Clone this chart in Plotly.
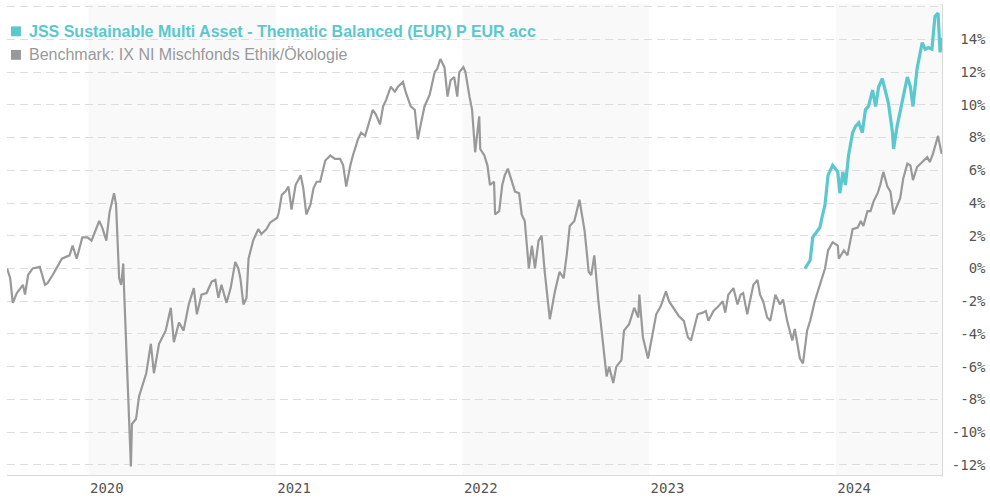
import plotly.graph_objects as go

# ---------------- data ----------------
bench_dates = [
    "2019-07-26", "2019-08-01", "2019-08-06", "2019-08-14", "2019-08-26", "2019-08-30", "2019-09-05", "2019-09-14",
    "2019-09-28", "2019-10-08", "2019-10-13", "2019-10-23", "2019-11-10", "2019-11-25", "2019-12-01", "2019-12-09",
    "2019-12-20", "2019-12-30", "2020-01-07", "2020-01-22", "2020-01-28", "2020-02-05", "2020-02-11", "2020-02-20",
    "2020-02-24", "2020-03-01", "2020-03-05", "2020-03-09", "2020-03-11", "2020-03-17", "2020-03-24", "2020-03-26",
    "2020-04-03", "2020-04-09", "2020-04-23", "2020-05-02", "2020-05-08", "2020-05-18", "2020-05-31", "2020-06-10",
    "2020-06-16", "2020-06-26", "2020-07-05", "2020-07-15", "2020-07-25", "2020-07-31", "2020-08-09", "2020-08-19",
    "2020-08-29", "2020-09-05", "2020-09-11", "2020-09-17", "2020-09-27", "2020-10-05", "2020-10-14", "2020-10-20",
    "2020-10-24", "2020-10-30", "2020-11-05", "2020-11-09", "2020-11-18", "2020-11-28", "2020-12-04", "2020-12-14",
    "2020-12-21", "2021-01-04", "2021-01-07", "2021-01-13", "2021-01-20", "2021-01-26", "2021-02-01", "2021-02-09",
    "2021-02-19", "2021-02-24", "2021-03-02", "2021-03-10", "2021-03-16", "2021-03-22", "2021-03-29", "2021-04-08",
    "2021-04-18", "2021-04-27", "2021-05-07", "2021-05-13", "2021-05-19", "2021-05-27", "2021-06-01", "2021-06-11",
    "2021-06-17", "2021-06-25", "2021-07-01", "2021-07-10", "2021-07-16", "2021-07-24", "2021-07-30", "2021-08-05",
    "2021-08-14", "2021-08-22", "2021-08-28", "2021-09-07", "2021-09-12", "2021-09-22", "2021-09-30", "2021-10-06",
    "2021-10-11", "2021-10-19", "2021-10-29", "2021-11-08", "2021-11-13", "2021-11-19", "2021-11-27", "2021-12-03",
    "2021-12-09", "2021-12-16", "2021-12-22", "2021-12-26", "2022-01-03", "2022-01-07", "2022-01-15", "2022-01-20",
    "2022-01-26", "2022-02-03", "2022-02-05", "2022-02-13", "2022-02-19", "2022-02-24", "2022-03-04", "2022-03-06",
    "2022-03-14", "2022-03-20", "2022-03-25", "2022-03-31", "2022-04-14", "2022-04-22", "2022-04-27", "2022-05-03",
    "2022-05-11", "2022-05-17", "2022-05-23", "2022-05-30", "2022-06-05", "2022-06-11", "2022-06-21", "2022-07-01",
    "2022-07-10", "2022-07-18", "2022-07-24", "2022-07-30", "2022-08-08", "2022-08-18", "2022-08-28", "2022-09-05",
    "2022-09-10", "2022-09-16", "2022-09-24", "2022-10-04", "2022-10-10", "2022-10-15", "2022-10-23", "2022-10-29",
    "2022-11-08", "2022-11-13", "2022-11-23", "2022-12-03", "2022-12-11", "2022-12-13", "2022-12-20", "2022-12-30",
    "2023-01-05", "2023-01-15", "2023-01-24", "2023-02-03", "2023-02-09", "2023-02-19", "2023-02-28", "2023-03-10",
    "2023-03-18", "2023-03-24", "2023-03-29", "2023-04-06", "2023-04-16", "2023-04-22", "2023-04-27", "2023-05-07",
    "2023-05-17", "2023-05-25", "2023-05-30", "2023-06-05", "2023-06-15", "2023-06-23", "2023-06-29", "2023-07-04",
    "2023-07-12", "2023-07-18", "2023-07-24", "2023-08-01", "2023-08-06", "2023-08-12", "2023-08-20", "2023-08-26",
    "2023-09-05", "2023-09-14", "2023-09-20", "2023-09-28", "2023-10-08", "2023-10-13", "2023-10-23", "2023-10-29",
    "2023-11-06", "2023-11-12", "2023-11-21", "2023-12-01", "2023-12-11", "2023-12-17", "2023-12-26", "2024-01-05",
    "2024-01-07", "2024-01-17", "2024-01-24", "2024-02-03", "2024-02-13", "2024-02-19", "2024-02-24", "2024-03-03",
    "2024-03-09", "2024-03-15", "2024-03-23", "2024-03-28", "2024-04-03", "2024-04-11", "2024-04-17", "2024-04-23",
    "2024-04-30", "2024-05-06", "2024-05-12", "2024-05-20", "2024-05-26", "2024-05-31", "2024-06-08", "2024-06-18",
    "2024-06-28", "2024-07-03", "2024-07-09", "2024-07-19", "2024-07-26",
]
bench_values = [
    0.0, -0.6, -2.1, -1.5, -1.0, -1.6, -0.4, 0.0,
    0.1, -1.0, -0.9, -0.4, 0.6, 0.8, 1.4, 0.6,
    1.9, 1.9, 1.7, 2.9, 2.5, 1.7, 3.4, 4.6,
    3.9, -0.6, -1.0, 0.3, -1.6, -6.6, -12.1, -9.5,
    -9.2, -7.8, -6.4, -4.6, -6.4, -4.6, -3.8, -2.4,
    -4.5, -3.3, -3.8, -2.2, -1.2, -2.8, -1.6, -1.5,
    -0.8, -0.7, -1.8, -1.0, -2.1, -1.2, 0.4, 0.0,
    -0.6, -2.2, -1.8, 0.6, 1.7, 2.4, 2.1, 2.4,
    2.8, 3.1, 3.4, 4.5, 4.7, 5.0, 3.6, 5.1,
    5.7, 4.9, 3.3, 3.9, 4.9, 5.3, 5.3, 6.6,
    6.9, 6.7, 6.7, 6.3, 5.0, 6.3, 6.9, 7.9,
    8.3, 8.1, 8.7, 9.7, 9.4, 8.8, 9.9, 10.3,
    11.1, 10.8, 11.1, 11.4, 10.8, 9.9, 9.7, 7.9,
    8.7, 9.9, 10.6, 12.0, 12.2, 12.8, 12.3, 10.5,
    11.5, 11.7, 10.5, 12.0, 12.3, 12.0, 10.5, 9.7,
    7.1, 9.3, 7.3, 6.9, 6.3, 5.1, 5.3, 3.3,
    3.5, 5.1, 5.7, 6.1, 4.7, 4.6, 3.3, 2.9,
    0.0, 1.4, 0.0, 1.7, 2.0, -0.2, -3.1, -1.4,
    -0.2, -0.6, 0.8, 2.6, 2.9, 4.2, 2.3, -0.2,
    -0.4, 0.8, -2.0, -5.0, -6.6, -6.0, -7.0, -6.0,
    -5.6, -3.8, -3.4, -2.4, -3.0, -1.6, -4.2, -5.5,
    -4.4, -2.8, -2.3, -1.4, -2.0, -2.5, -2.9, -3.2,
    -4.2, -4.4, -3.8, -2.8, -2.7, -2.6, -3.2, -2.6,
    -2.3, -2.0, -2.7, -1.6, -1.2, -2.2, -1.6, -1.5,
    -2.8, -1.8, -1.0, -0.7, -1.6, -2.0, -3.0, -3.2,
    -1.6, -2.2, -1.9, -3.2, -4.4, -3.7, -5.5, -5.8,
    -3.8, -3.2, -2.0, -1.0, 0.0, 1.1, 1.6, 1.4,
    0.6, 1.1, 0.8, 2.4, 2.5, 2.9, 2.6, 3.5,
    3.5, 4.1, 4.6, 5.1, 5.9, 5.0, 4.7, 3.3,
    3.9, 4.3, 5.5, 6.4, 6.3, 5.4, 6.2, 6.5,
    6.8, 6.5, 7.0, 8.1, 7.0,
]

fund_dates = [
    "2023-11-02", "2023-11-12", "2023-11-17", "2023-11-25", "2023-12-01", "2023-12-05", "2023-12-11", "2023-12-17",
    "2023-12-26", "2024-01-05", "2024-01-09", "2024-01-15", "2024-01-20", "2024-01-26", "2024-02-03", "2024-02-09",
    "2024-02-15", "2024-02-22", "2024-02-28", "2024-03-05", "2024-03-13", "2024-03-19", "2024-03-25", "2024-04-01",
    "2024-04-07", "2024-04-13", "2024-04-21", "2024-04-23", "2024-04-30", "2024-05-06", "2024-05-12", "2024-05-20",
    "2024-05-26", "2024-05-31", "2024-06-08", "2024-06-18", "2024-06-24", "2024-06-30", "2024-07-07", "2024-07-13",
    "2024-07-19", "2024-07-23", "2024-07-26",
]
fund_values = [
    0.0, 0.5, 1.9, 2.2, 2.5, 3.1, 3.9, 5.7,
    6.3, 5.9, 4.6, 5.9, 5.1, 6.9, 8.3, 8.7,
    8.9, 8.3, 9.7, 9.9, 10.9, 9.9, 11.1, 11.6,
    10.8, 10.1, 8.3, 7.3, 8.7, 9.5, 10.5, 11.7,
    11.1, 9.9, 12.2, 13.8, 13.4, 13.5, 13.4, 15.4,
    15.6, 13.2, 14.1,
]

fund_name = "JSS Sustainable Multi Asset - Thematic Balanced (EUR) P EUR acc"
bench_name = "Benchmark: IX NI Mischfonds Ethik/Ökologie"

year_labels = ["2020", "2021", "2022", "2023", "2024"]
year_label_pos = ["2020-02-06", "2021-02-06", "2022-02-06", "2023-02-06", "2024-02-06"]
shaded_years = [("2020-01-01", "2021-01-01"), ("2022-01-01", "2023-01-01"), ("2024-01-01", "2024-12-31")]
y_ticks = list(range(-12, 17, 2))

# ---------------- styling ----------------
TEAL = "#5bc8ce"
GREY = "#999999"

fig = go.Figure()
fig.add_trace(go.Scatter(x=bench_dates, y=bench_values, mode="lines", name=bench_name,
                         line=dict(color=GREY, width=2.2), hoverinfo="skip"))
fig.add_trace(go.Scatter(x=fund_dates, y=fund_values, mode="lines", name=fund_name,
                         line=dict(color=TEAL, width=3.2), hoverinfo="skip"))

for start, end in shaded_years:
    fig.add_shape(type="rect", xref="x", yref="paper", x0=start, x1=end, y0=0, y1=1,
                  fillcolor="#f9f9f9", line_width=0, layer="below")

def fmt(v):
    if v == 16:
        return ""
    s = f"{v}%"
    return "\u00a0" * (4 - len(s)) + s

fig.update_layout(
    width=990, height=500,
    margin=dict(l=7, r=43, t=4, b=21),
    plot_bgcolor="white", paper_bgcolor="white",
    showlegend=False,
    font=dict(family="Liberation Sans, Arial, sans-serif"),
    xaxis=dict(
        range=["2019-07-25 18:00", "2024-07-26 18:00"],
        tickmode="array", tickvals=year_label_pos, ticktext=year_labels,
        showgrid=False, zeroline=False,
        showline=True, linecolor="#d8d8d8", linewidth=1,
        ticks="", ticklen=0,
        tickfont=dict(family="DejaVu Sans Mono", size=14, color="#555555"),
    ),
    yaxis=dict(
        side="right", range=[-12.62, 16.16],
        tickmode="array", tickvals=y_ticks, ticktext=[fmt(v) for v in y_ticks],
        showgrid=True, gridcolor="#dddddd", gridwidth=1, griddash="8px,5px",
        zeroline=False, showline=True, linecolor="#d8d8d8", linewidth=1,
        ticks="", ticklabelstandoff=6,
        tickfont=dict(family="DejaVu Sans Mono", size=14, color="#555555"),
    ),
)

# legend drawn as squares + texts
legend_rows = [(fund_name, TEAL, "bold", 0.942), (bench_name, GREY, "normal", 0.892)]
for text, color, weight, ypos in legend_rows:
    fig.add_shape(type="rect", xref="paper", yref="paper",
                  x0=0.0043, x1=0.0149, y0=ypos - 0.0105, y1=ypos + 0.0105,
                  fillcolor=color, line_width=0)
    fig.add_annotation(xref="paper", yref="paper", x=0.0212, y=ypos, xanchor="left", yanchor="middle",
                       text=f"<b>{text}</b>" if weight == "bold" else text, showarrow=False,
                       font=dict(family="Liberation Sans, Arial, sans-serif", size=16, color=color))

fig.write_html("out.html", config={"displayModeBar": False},
               post_script="document.body.style.margin='0';document.body.style.overflow='hidden';")
